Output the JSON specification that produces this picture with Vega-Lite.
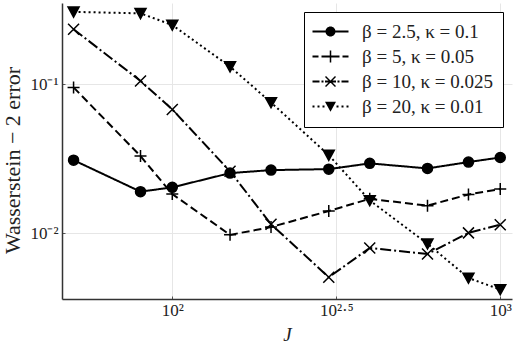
{
  "$schema": "https://vega.github.io/schema/vega-lite/v6.json",
  "autosize": {"type": "none"},
  "width": 450,
  "height": 296,
  "padding": {"left": 62, "top": 3, "right": 3, "bottom": 45},
  "background": "white",
  "config": {
    "view": {"stroke": null},
    "font": "Liberation Serif",
    "axis": {
      "domainColor": "#333333",
      "domainWidth": 1.5,
      "gridColor": "#e6e6e6",
      "gridWidth": 1,
      "tickColor": "#555555",
      "tickSize": -3,
      "labelFont": "Liberation Serif",
      "labelFontSize": 17,
      "labelColor": "#222222",
      "titleFont": "Liberation Serif",
      "titleFontWeight": "normal",
      "titleColor": "#222222"
    },
    "legend": {
      "orient": "top-right",
      "offset": 9,
      "strokeColor": "black",
      "fillColor": "white",
      "strokeWidth": 1,
      "cornerRadius": 0,
      "padding": 10,
      "rowPadding": 5,
      "labelFont": "Liberation Serif",
      "labelFontSize": 19,
      "labelColor": "#222222",
      "labelOffset": 22,
      "labelLimit": 0,
      "symbolOffset": 7,
      "symbolSize": 100
    }
  },
  "data": {
    "values": [
      {"J": 50, "err": 0.0309, "series": "β = 2.5, κ = 0.1"},
      {"J": 80, "err": 0.0190, "series": "β = 2.5, κ = 0.1"},
      {"J": 100, "err": 0.0203, "series": "β = 2.5, κ = 0.1"},
      {"J": 150, "err": 0.0253, "series": "β = 2.5, κ = 0.1"},
      {"J": 200, "err": 0.0265, "series": "β = 2.5, κ = 0.1"},
      {"J": 300, "err": 0.0269, "series": "β = 2.5, κ = 0.1"},
      {"J": 400, "err": 0.0294, "series": "β = 2.5, κ = 0.1"},
      {"J": 600, "err": 0.0272, "series": "β = 2.5, κ = 0.1"},
      {"J": 800, "err": 0.0300, "series": "β = 2.5, κ = 0.1"},
      {"J": 1000, "err": 0.0322, "series": "β = 2.5, κ = 0.1"},
      {"J": 50, "err": 0.095, "series": "β = 5, κ = 0.05"},
      {"J": 80, "err": 0.0329, "series": "β = 5, κ = 0.05"},
      {"J": 100, "err": 0.0183, "series": "β = 5, κ = 0.05"},
      {"J": 150, "err": 0.00975, "series": "β = 5, κ = 0.05"},
      {"J": 200, "err": 0.0110, "series": "β = 5, κ = 0.05"},
      {"J": 300, "err": 0.0141, "series": "β = 5, κ = 0.05"},
      {"J": 400, "err": 0.0170, "series": "β = 5, κ = 0.05"},
      {"J": 600, "err": 0.0153, "series": "β = 5, κ = 0.05"},
      {"J": 800, "err": 0.0182, "series": "β = 5, κ = 0.05"},
      {"J": 1000, "err": 0.0198, "series": "β = 5, κ = 0.05"},
      {"J": 50, "err": 0.233, "series": "β = 10, κ = 0.025"},
      {"J": 80, "err": 0.105, "series": "β = 10, κ = 0.025"},
      {"J": 100, "err": 0.0676, "series": "β = 10, κ = 0.025"},
      {"J": 150, "err": 0.0260, "series": "β = 10, κ = 0.025"},
      {"J": 200, "err": 0.0115, "series": "β = 10, κ = 0.025"},
      {"J": 300, "err": 0.00507, "series": "β = 10, κ = 0.025"},
      {"J": 400, "err": 0.00796, "series": "β = 10, κ = 0.025"},
      {"J": 600, "err": 0.00726, "series": "β = 10, κ = 0.025"},
      {"J": 800, "err": 0.01005, "series": "β = 10, κ = 0.025"},
      {"J": 1000, "err": 0.0114, "series": "β = 10, κ = 0.025"},
      {"J": 50, "err": 0.305, "series": "β = 20, κ = 0.01"},
      {"J": 80, "err": 0.298, "series": "β = 20, κ = 0.01"},
      {"J": 100, "err": 0.249, "series": "β = 20, κ = 0.01"},
      {"J": 150, "err": 0.131, "series": "β = 20, κ = 0.01"},
      {"J": 200, "err": 0.0753, "series": "β = 20, κ = 0.01"},
      {"J": 300, "err": 0.0334, "series": "β = 20, κ = 0.01"},
      {"J": 400, "err": 0.0166, "series": "β = 20, κ = 0.01"},
      {"J": 600, "err": 0.0085, "series": "β = 20, κ = 0.01"},
      {"J": 800, "err": 0.00501, "series": "β = 20, κ = 0.01"},
      {"J": 1000, "err": 0.00419, "series": "β = 20, κ = 0.01"}
    ]
  },
  "encoding": {
    "x": {
      "field": "J",
      "type": "quantitative",
      "scale": {"type": "log", "domain": [46.1, 1086], "nice": false, "zero": false},
      "axis": {
        "values": [100, 316.2278, 1000],
        "labelExpr": "datum.value < 200 ? '10²' : datum.value < 500 ? '10²·⁵' : '10³'",
        "grid": true,
        "labelPadding": 6,
        "title": "J",
        "titleFontStyle": "italic",
        "titleFontSize": 19,
        "titlePadding": 7
      }
    },
    "y": {
      "field": "err",
      "type": "quantitative",
      "scale": {"type": "log", "domain": [0.003622, 0.3497], "nice": false, "zero": false},
      "axis": {
        "values": [0.01, 0.1],
        "labelExpr": "datum.value < 0.05 ? '10⁻²' : '10⁻¹'",
        "grid": true,
        "labelPadding": 7,
        "title": "Wasserstein − 2 error",
        "titleFontSize": 22,
        "titlePadding": 5,
        "titleY": 157
      }
    }
  },
  "layer": [
    {
      "mark": {"type": "line", "color": "black", "strokeWidth": 2},
      "encoding": {
        "strokeDash": {
          "field": "series",
          "type": "nominal",
          "scale": {
            "domain": ["β = 2.5, κ = 0.1", "β = 5, κ = 0.05", "β = 10, κ = 0.025", "β = 20, κ = 0.01"],
            "range": [[1, 0], [8, 4], [11, 3, 2, 3], [2, 3]]
          },
          "legend": null
        }
      }
    },
    {
      "mark": {"type": "point", "filled": true, "fill": "black", "stroke": "black", "strokeWidth": 1.5, "size": 100, "opacity": 1},
      "encoding": {
        "shape": {
          "field": "series",
          "type": "nominal",
          "scale": {
            "domain": ["β = 2.5, κ = 0.1", "β = 5, κ = 0.05", "β = 10, κ = 0.025", "β = 20, κ = 0.01"],
            "range": ["circle", "M-1.2,0H1.2M0,-1.2V1.2", "M-1.1,-1.1L1.1,1.1M-1.1,1.1L1.1,-1.1", "M-1.1,-0.95L1.1,-0.95L0,1.05Z"]
          },
          "legend": null
        }
      }
    },
    {
      "transform": [{"filter": "datum.J < 0"}],
      "mark": {"type": "point", "filled": true, "fill": "black", "size": 100, "opacity": 1},
      "encoding": {
        "shape": {
          "field": "series",
          "type": "nominal",
          "scale": {
            "domain": ["β = 2.5, κ = 0.1", "β = 5, κ = 0.05", "β = 10, κ = 0.025", "β = 20, κ = 0.01"],
            "range": [
              "M-3.6,-0.2H3.6V0.2H-3.6ZM-1,0A1,1,0,1,1,1,0A1,1,0,1,1,-1,0Z",
              "M-3.6,-0.2H-2.4V0.2H-3.6ZM-1.8,-0.2H1.8V0.2H-1.8ZM2.4,-0.2H3.6V0.2H2.4ZM-0.15,-1.2H0.15V1.2H-0.15Z",
              "M-3.6,-0.2H-2.2V0.2H-3.6ZM-1.8,-0.2H-1.4V0.2H-1.8ZM-1.1,-0.2H1.1V0.2H-1.1ZM1.4,-0.2H1.8V0.2H1.4ZM2.2,-0.2H3.6V0.2H2.2ZM-1.1,-0.9L-0.9,-1.1L1.1,0.9L0.9,1.1ZM-1.1,0.9L0.9,-1.1L1.1,-0.9L-0.9,1.1Z",
              "M-3.6,-0.2H-3.2V0.2H-3.6ZM-2.6,-0.2H-2.2V0.2H-2.6ZM-1.6,-0.2H-1.2V0.2H-1.6ZM1.2,-0.2H1.6V0.2H1.2ZM2.2,-0.2H2.6V0.2H2.2ZM3.2,-0.2H3.6V0.2H3.2ZM-1.1,-0.95L1.1,-0.95L0,1.05Z"
            ]
          },
          "legend": {
            "title": null,
            "labelExpr": "datum.label + '\u00a0\u00a0'",
            "symbolFillColor": "black",
            "symbolOpacity": 1
          }
        }
      }
    }
  ],
  "resolve": {"scale": {"shape": "independent"}, "legend": {"shape": "independent"}}
}
